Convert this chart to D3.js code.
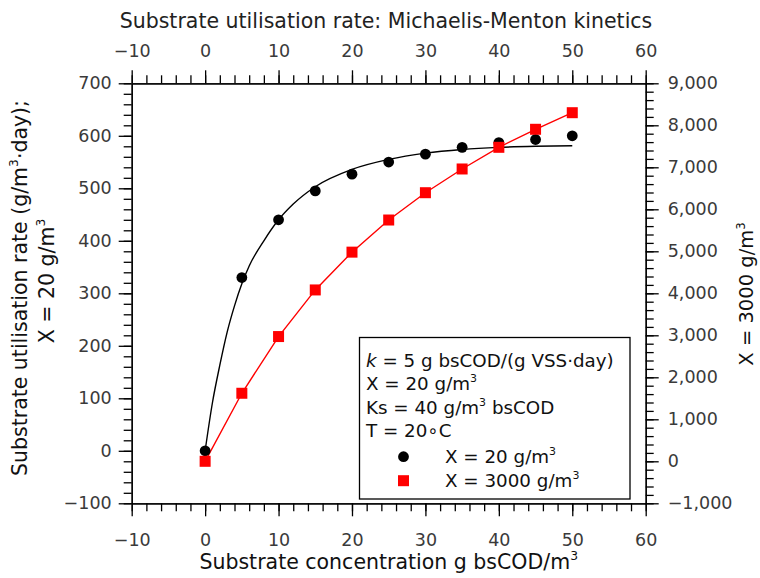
<!DOCTYPE html>
<html>
<head>
<meta charset="utf-8">
<script src="https://cdn.jsdelivr.net/npm/d3@7"></script>
<style>
body { margin: 0; background: #fff; }
text { font-family: "DejaVu Sans", sans-serif; }
</style>
</head>
<body>
<svg id="chart" width="760" height="578"></svg>
<script>
// measured data (g bsCOD/m3 vs rate)
var conc = [0, 5, 10, 15, 20, 25, 30, 35, 40, 45, 50];
var rateX20 = [0, 330, 440, 495, 527, 550, 565, 578, 587, 593, 600];
var rateX3000 = [0, 1620, 2970, 4080, 4980, 5745, 6395, 6960, 7476, 7905, 8300];
// fitted curve
var fitConc = [0, 1, 2, 3, 4, 5, 6, 8, 10, 12, 15, 20, 25, 30, 35, 40, 45, 50];
var fitRate = [0, 92, 163, 226, 276, 318, 352, 400, 440, 470, 503, 536, 555, 567, 574, 578, 580, 581];

var xTicks = [-10, 0, 10, 20, 30, 40, 50, 60];
var leftTicks = [-100, 0, 100, 200, 300, 400, 500, 600, 700];
var rightTicks = [-1000, 0, 1000, 2000, 3000, 4000, 5000, 6000, 7000, 8000, 9000];

var svg = d3.select("#chart");
var L = 131.7, R = 645.7, T = 83.3, B = 503.3;

var x = d3.scaleLinear().domain([-10, 60]).range([L, R]);
var yL = d3.scaleLinear().domain([-100, 700]).range([B, T]);
var yR = d3.scaleLinear().domain([-1000, 9000]).range([B, T]);

// put superscripts like m^3 into tspans, size = font px of the parent
function richText(sel, str, size) {
	var parts = str.split(/\^(\w)/);
	var lift = size * 0.42, raised = false;
	parts.forEach(function(p, i) {
		if (p === "") return;
		if (i % 2 == 1) {
			sel.append("tspan").style("font-size", (size * 0.6) + "px").attr("dy", -lift).text(p);
			raised = true;
		} else {
			var t = sel.append("tspan").text(p);
			if (raised) { t.attr("dy", lift); raised = false; }
		}
	});
}

function styleAxis(g) {
	g.selectAll("path.domain").attr("stroke", "#000").attr("stroke-width", 1.3);
	g.selectAll(".tick line").attr("stroke", "#000").attr("stroke-width", 1.3);
	g.selectAll(".tick text").attr("fill", "#3a3a3a").style("font-size", "17.5px").style("font-family", "'DejaVu Sans', sans-serif");
}

var minorX = d3.range(-10, 61, 2);
var minorL = d3.range(-100, 701, 20);
var minorR = d3.range(-1000, 9001, 200);

// minor ticks
svg.append("g").attr("transform", "translate(0," + B + ")")
	.call(d3.axisBottom(x).tickValues(minorX).tickSize(8).tickSizeOuter(0).tickFormat(""))
	.call(styleAxis);
svg.append("g").attr("transform", "translate(0," + T + ")")
	.call(d3.axisTop(x).tickValues(minorX).tickSize(8).tickSizeOuter(0).tickFormat(""))
	.call(styleAxis);
svg.append("g").attr("transform", "translate(" + L + ",0)")
	.call(d3.axisLeft(yL).tickValues(minorL).tickSize(8).tickSizeOuter(0).tickFormat(""))
	.call(styleAxis);
svg.append("g").attr("transform", "translate(" + R + ",0)")
	.call(d3.axisRight(yR).tickValues(minorR).tickSize(8).tickSizeOuter(0).tickFormat(""))
	.call(styleAxis);

// major ticks + labels
var fmt = d3.format("d");
svg.append("g").attr("transform", "translate(0," + B + ")")
	.call(d3.axisBottom(x).tickValues(xTicks).tickSize(13).tickPadding(17).tickSizeOuter(0).tickFormat(fmt))
	.call(styleAxis);
svg.append("g").attr("transform", "translate(0," + T + ")")
	.call(d3.axisTop(x).tickValues(xTicks).tickSize(13).tickPadding(13).tickSizeOuter(0).tickFormat(fmt))
	.call(styleAxis);
svg.append("g").attr("transform", "translate(" + L + ",0)")
	.call(d3.axisLeft(yL).tickValues(leftTicks).tickSize(13).tickPadding(7).tickSizeOuter(0).tickFormat(fmt))
	.call(styleAxis);
svg.append("g").attr("transform", "translate(" + R + ",0)")
	.call(d3.axisRight(yR).tickValues(rightTicks).tickSize(13).tickPadding(9).tickSizeOuter(0).tickFormat(d3.format(",")))
	.call(styleAxis);

// fitted curve
var fitLine = d3.line()
	.x(function(d, i) { return x(fitConc[i]); })
	.y(function(d) { return yL(d); })
	.curve(d3.curveMonotoneX);
svg.append("path").datum(fitRate)
	.attr("d", fitLine).attr("fill", "none").attr("stroke", "#000").attr("stroke-width", 1.4);

// X = 3000 line
var redLine = d3.line()
	.x(function(d, i) { return x(conc[i]); })
	.y(function(d) { return yR(d); });
svg.append("path").datum(rateX3000)
	.attr("d", redLine).attr("fill", "none").attr("stroke", "#ff0000").attr("stroke-width", 1.4);

svg.selectAll("circle.pt").data(rateX20).enter().append("circle")
	.attr("class", "pt")
	.attr("cx", function(d, i) { return x(conc[i]); })
	.attr("cy", function(d) { return yL(d); })
	.attr("r", 5.4).attr("fill", "#000");

svg.selectAll("rect.pt").data(rateX3000).enter().append("rect")
	.attr("class", "pt")
	.attr("x", function(d, i) { return x(conc[i]) - 5.5; })
	.attr("y", function(d) { return yR(d) - 5.5; })
	.attr("width", 11).attr("height", 11).attr("fill", "#ff0000");

// titles
svg.append("text").attr("x", 386).attr("y", 28).attr("text-anchor", "middle")
	.attr("fill", "#222").style("font-size", "20.5px")
	.text("Substrate utilisation rate: Michaelis-Menton kinetics");

svg.append("text").attr("x", (L + R) / 2).attr("y", 569).attr("text-anchor", "middle")
	.attr("fill", "#111").style("font-size", "20.5px")
	.call(richText, "Substrate concentration g bsCOD/m^3", 20.5);

svg.append("text").attr("transform", "translate(27,288) rotate(-90)").attr("text-anchor", "middle")
	.attr("fill", "#111").style("font-size", "20.5px")
	.call(richText, "Substrate utilisation rate (g/m^3\u00b7day);", 20.5);
svg.append("text").attr("transform", "translate(54,281) rotate(-90)").attr("text-anchor", "middle")
	.attr("fill", "#111").style("font-size", "20.5px")
	.call(richText, "X = 20 g/m^3", 20.5);

svg.append("text").attr("transform", "translate(753,294) rotate(-90)").attr("text-anchor", "middle")
	.attr("fill", "#111").style("font-size", "19.5px")
	.call(richText, "X = 3000 g/m^3", 19.5);

// legend box
var lg = svg.append("g");
var fs = 18.3;
lg.append("rect").attr("x", 359.5).attr("y", 337.5).attr("width", 270.5).attr("height", 161.5)
	.attr("fill", "#fff").attr("stroke", "#000").attr("stroke-width", 1.3);

var k = lg.append("text").attr("x", 366).attr("y", 366.5).style("font-size", fs + "px").attr("fill", "#111");
k.append("tspan").attr("font-style", "italic").text("k");
k.append("tspan").text(" = 5 g bsCOD/(g VSS\u00b7day)");
lg.append("text").attr("x", 366).attr("y", 390).style("font-size", fs + "px").attr("fill", "#111")
	.call(richText, "X = 20 g/m^3", fs);
lg.append("text").attr("x", 366).attr("y", 413.5).style("font-size", fs + "px").attr("fill", "#111")
	.call(richText, "Ks = 40 g/m^3 bsCOD", fs);
lg.append("text").attr("x", 366).attr("y", 437).style("font-size", fs + "px").attr("fill", "#111")
	.text("T = 20\u2218C");

lg.append("circle").attr("cx", 403.5).attr("cy", 456.7).attr("r", 5.4).attr("fill", "#000");
lg.append("text").attr("x", 445).attr("y", 463).style("font-size", fs + "px").attr("fill", "#111")
	.call(richText, "X = 20 g/m^3", fs);
lg.append("rect").attr("x", 398).attr("y", 475.2).attr("width", 11).attr("height", 11).attr("fill", "#ff0000");
lg.append("text").attr("x", 445).attr("y", 487).style("font-size", fs + "px").attr("fill", "#111")
	.call(richText, "X = 3000 g/m^3", fs);
</script>
</body>
</html>
